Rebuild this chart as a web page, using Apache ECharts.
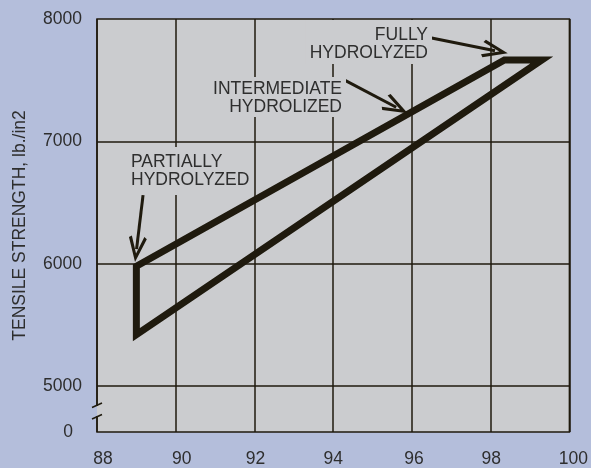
<!DOCTYPE html>
<html>
<head>
<meta charset="utf-8">
<script src="https://cdn.jsdelivr.net/npm/echarts@6/dist/echarts.min.js"></script>
<style>
html, body { margin: 0; padding: 0; background: #b4bedb; }
#chart { width: 591px; height: 468px; }
</style>
</head>
<body>
<div id="chart"></div>
<script>
// degree of hydrolysis (%) against tensile strength
var xTicks = [88, 90, 92, 94, 96, 98, 100]
var yTickValues = [5000, 6000, 7000, 8000]
var yBaseValue = 4625 // shown as "0" under the axis break
var yBaseLabel = '0'

// envelope corners: partially top, fully left, fully tip, partially bottom
var envelopeX = [89.0, 98.35, 99.3, 89.0]
var envelopeY = [5980, 7665, 7665, 5420]

var labelTexts = ['PARTIALLY\nHYDROLYZED', 'INTERMEDIATE\nHYDROLIZED', 'FULLY\nHYDROLYZED']
var arrowFromX = [89.17, 94.29, 96.50]
var arrowFromY = [6561, 7501, 7845]
var arrowToX = [89.005, 95.6, 98.11]
var arrowToY = [6119, 7279, 7741]

var ink = '#1f1a0e'
var textColor = '#2e2e2e'
var outerBg = '#b4bedb'
var plotBg = '#cbcccf'
var fontFamily = 'Liberation Sans, Arial, sans-serif'
var fontSize = 17.5
var chevron = 'path://M10,0 L20,25 L17,27 L10,9 L3,27 L0,25 Z'
// hand-lettered x labels sit a little right of their gridlines
var xLabelShift = { 88: 12, 90: 12, 92: 2, 96: 4, 98: 1, 100: 8 }

var chart = echarts.init(document.getElementById('chart'))

// closed outline, first two corners repeated so every corner gets a join
var outline = []
for (var i = 0; i < envelopeX.length + 2; i++) {
  var k = i % envelopeX.length
  outline.push([envelopeX[k], envelopeY[k]])
}

var marks = []
yTickValues.forEach(function (v) {
  if (v < yTickValues[yTickValues.length - 1]) {
    marks.push({ yAxis: v, lineStyle: { color: ink, width: 1.5, type: 'solid' } })
  }
})
for (var j = 0; j < arrowFromX.length; j++) {
  marks.push([
    { coord: [arrowFromX[j], arrowFromY[j]], symbol: 'none', lineStyle: { color: ink, width: 3, type: 'solid' } },
    { coord: [arrowToX[j], arrowToY[j]], symbol: chevron, symbolSize: [18, 26], lineStyle: { color: ink, width: 3, type: 'solid' } }
  ])
}

var xRich = {}
xTicks.forEach(function (t) {
  xRich['t' + t] = {
    padding: [0, 0, 0, xLabelShift[t] || 0],
    color: textColor,
    fontSize: fontSize,
    fontFamily: fontFamily
  }
})

var labelStyle = function (text, x, y, align, padding) {
  return {
    type: 'text',
    x: x,
    y: y,
    z: 100,
    style: {
      text: text,
      fill: textColor,
      fontSize: fontSize,
      fontFamily: fontFamily,
      lineHeight: 18,
      align: align,
      verticalAlign: 'top',
      backgroundColor: plotBg,
      padding: padding
    }
  }
}

chart.setOption({
  backgroundColor: outerBg,
  animation: false,
  grid: {
    left: 97,
    right: 21,
    top: 19,
    bottom: 36,
    show: true,
    backgroundColor: plotBg,
    borderColor: ink,
    borderWidth: 1.5
  },
  xAxis: {
    type: 'value',
    min: xTicks[0],
    max: xTicks[xTicks.length - 1],
    interval: 2,
    axisLine: { show: false },
    axisTick: { show: false },
    axisLabel: {
      margin: 18,
      color: textColor,
      fontSize: fontSize,
      fontFamily: fontFamily,
      formatter: function (v) { return '{t' + v + '|' + v + '}' },
      rich: xRich
    },
    splitLine: { show: true, lineStyle: { color: ink, width: 1.5 } }
  },
  yAxis: {
    type: 'value',
    min: yBaseValue,
    max: yTickValues[yTickValues.length - 1],
    interval: 125,
    axisLine: { show: false },
    axisTick: { show: false },
    splitLine: { show: false },
    axisLabel: {
      margin: 15,
      color: textColor,
      fontSize: fontSize,
      fontFamily: fontFamily,
      formatter: function (v) {
        if (v === yBaseValue) return '{base|' + yBaseLabel + '}'
        return yTickValues.indexOf(v) >= 0 ? String(v) : ''
      },
      rich: {
        base: { padding: [0, 9, 0, 0], color: textColor, fontSize: fontSize, fontFamily: fontFamily }
      }
    },
    name: 'TENSILE STRENGTH, lb./in2',
    nameLocation: 'middle',
    nameGap: 68,
    nameTextStyle: { color: textColor, fontSize: fontSize, fontFamily: fontFamily }
  },
  series: [{
    type: 'line',
    data: outline,
    symbol: 'none',
    silent: true,
    lineStyle: { color: ink, width: 7, join: 'miter', cap: 'butt' },
    markLine: {
      silent: true,
      symbol: ['none', 'none'],
      label: { show: false },
      data: marks
    }
  }],
  graphic: [
    labelStyle(labelTexts[0], 127, 147, 'left', [6, 4, 6, 4]),
    labelStyle(labelTexts[1], 346, 77, 'right', [3, 4, 1, 4]),
    labelStyle(labelTexts[2], 432, 20, 'right', [6, 4, 2, 4]),
    // axis break
    { type: 'rect', shape: { x: 95.5, y: 406, width: 1.5, height: 10 }, style: { fill: outerBg }, z: 100 },
    { type: 'rect', shape: { x: 97, y: 406, width: 1.5, height: 10 }, style: { fill: plotBg }, z: 100 },
    { type: 'line', shape: { x1: 92, y1: 407.5, x2: 102, y2: 403 }, style: { stroke: ink, lineWidth: 1.5 }, z: 101 },
    { type: 'line', shape: { x1: 92, y1: 419, x2: 102, y2: 414.5 }, style: { stroke: ink, lineWidth: 1.5 }, z: 101 }
  ]
})
</script>
</body>
</html>
